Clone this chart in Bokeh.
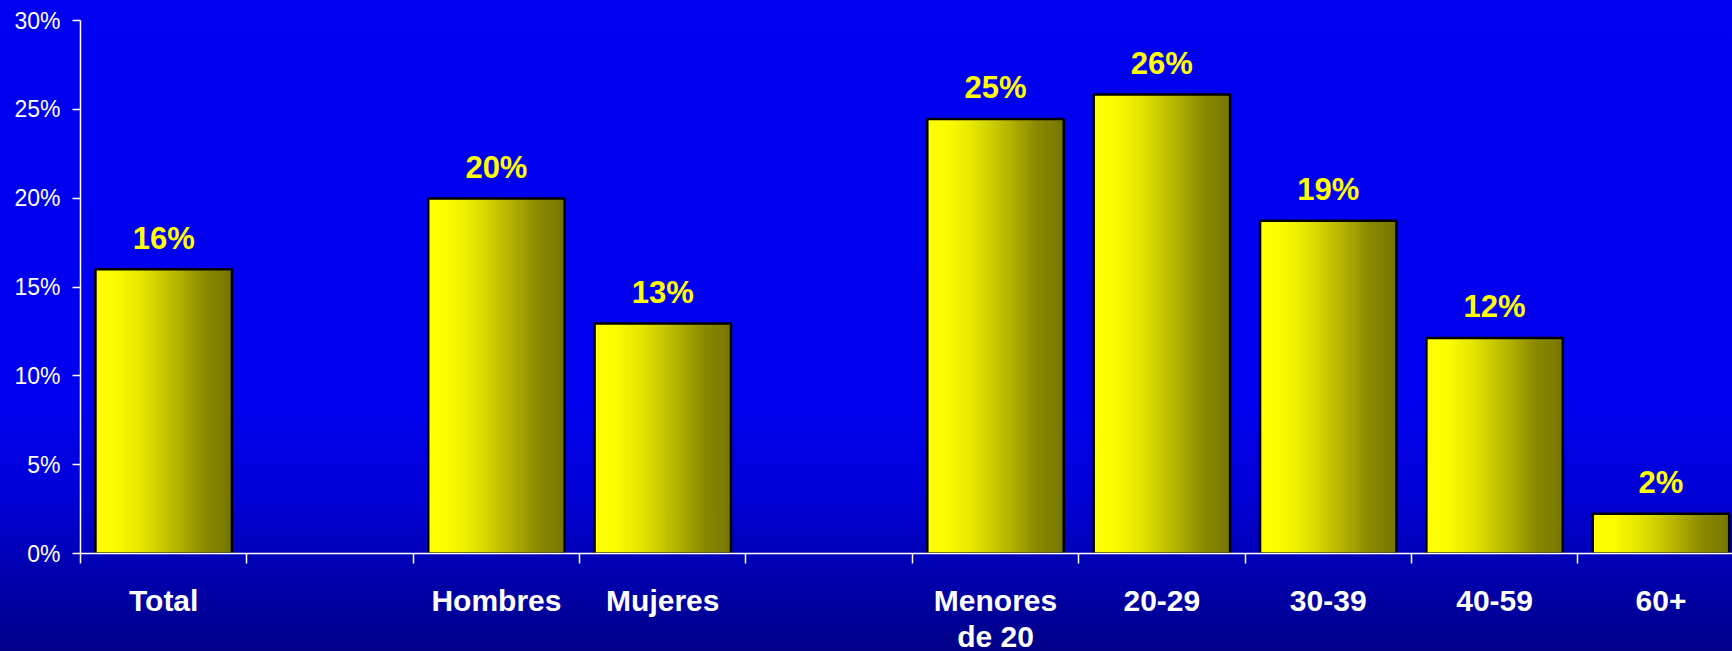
from bokeh.plotting import figure
from bokeh.models import Range1d, FixedTicker, ColumnDataSource
from bokeh.core.properties import value
from bokeh.embed import file_html
from bokeh.resources import INLINE
import numpy as np

# ---- data ----
categories = ["Total", "Hombres", "Mujeres", "Menores\nde 20", "20-29", "30-39", "40-59", "60+"]
slots = [0, 2, 3, 5, 6, 7, 8, 9]          # slot index of each category (gaps at 1 and 4)
values = [16.0, 19.98, 12.94, 24.46, 25.83, 18.73, 12.13, 2.24]
value_labels = ["16%", "20%", "13%", "25%", "26%", "19%", "12%", "2%"]
y_ticks = [0, 5, 10, 15, 20, 25, 30]
y_tick_labels = ["0%", "5%", "10%", "15%", "20%", "25%", "30%"]

BAR_W = 0.82
N_STRIPS = 60
FONT = "Liberation Sans"

centers = [s + 0.5 for s in slots]

p = figure(frame_width=1652, frame_height=533,
           x_range=Range1d(0, 9.93), y_range=Range1d(0, 30),
           output_backend="svg", toolbar_location=None,
           min_border_left=80, min_border_right=0, min_border_top=20, min_border_bottom=98)

p.styles = {
    "position": "fixed", "left": "0px", "top": "0px",
    "background": "linear-gradient(to bottom, #0000F2 0%, #0000EE 62%, #0000D8 75%, #0000B8 85%, #000085 100%)",
}
p.background_fill_alpha = 0
p.border_fill_alpha = 0
p.outline_line_color = None
p.grid.visible = False

# gradient bars built from vertical strips
ts = np.linspace(0, 1, N_STRIPS + 1)[:-1]
shade = np.interp(ts + 0.5 / N_STRIPS, [0, 0.15, 0.35, 0.6, 0.8, 1.0], [255, 252, 228, 180, 138, 118])
lefts, rights, tops, colors = [], [], [], []
for c, v in zip(centers, values):
    x0 = c - BAR_W / 2
    sw = BAR_W / N_STRIPS
    for t, s in zip(ts, shade):
        l = x0 + t * BAR_W
        lefts.append(l)
        rights.append(min(l + 1.6 * sw, x0 + BAR_W))
        tops.append(v)
        g = int(round(s))
        colors.append("#%02x%02x00" % (g, g))
strip_src = ColumnDataSource(dict(left=lefts, right=rights, top=tops, bottom=[0] * len(tops), color=colors))
p.quad(left="left", right="right", top="top", bottom="bottom", fill_color="color",
       line_color=None, source=strip_src)

bar_src = ColumnDataSource(dict(x=centers, top=values, label=value_labels))
p.vbar(x="x", top="top", width=BAR_W, bottom=0, fill_color=None, line_color="black",
       line_width=2.5, source=bar_src)

p.text(x="x", y="top", text="label", source=bar_src, text_font=value(FONT),
       text_font_style="bold", text_font_size="31px", text_color="#FFFF00",
       text_align="center", text_baseline="alphabetic", y_offset=-31)

# x axis: labels at slot centres, tick marks (minor) at slot boundaries
xa = p.xaxis[0]
xa.ticker = FixedTicker(ticks=centers, minor_ticks=list(range(0, 11)))
xa.major_label_overrides = {c: lab for c, lab in zip(centers, categories)}
xa.major_tick_line_color = None
xa.major_tick_out = 0
xa.minor_tick_line_color = "white"
xa.minor_tick_out = 10
xa.minor_tick_in = 0
xa.minor_tick_line_width = 1.5
xa.axis_line_color = "white"
xa.axis_line_width = 1.5
xa.major_label_text_color = "white"
xa.major_label_text_font = FONT
xa.major_label_text_font_style = "bold"
xa.major_label_text_font_size = "30px"
xa.major_label_text_line_height = 1.1
xa.major_label_standoff = 20

ya = p.yaxis[0]
ya.ticker = FixedTicker(ticks=y_ticks, minor_ticks=[])
ya.major_label_overrides = {t: lab for t, lab in zip(y_ticks, y_tick_labels)}
ya.major_tick_line_color = "white"
ya.major_tick_out = 8
ya.major_tick_in = 0
ya.major_tick_line_width = 1.5
ya.axis_line_color = "white"
ya.axis_line_width = 1.5
ya.major_label_text_color = "white"
ya.major_label_text_font = FONT
ya.major_label_text_font_size = "23px"
ya.major_label_standoff = 12

open("out.html", "w").write(file_html(p, INLINE))
